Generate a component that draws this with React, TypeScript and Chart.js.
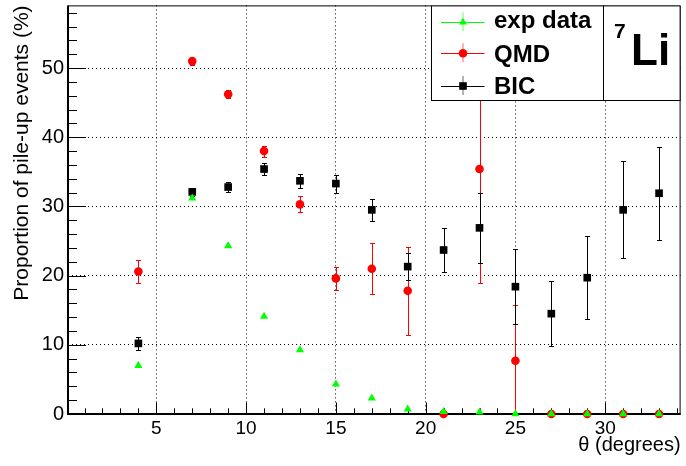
import React, { useEffect, useRef } from 'react';
import { Chart, registerables } from 'chart.js';

Chart.register(...registerables);

// ---- data ----
const angles = [4, 7, 9, 11, 13, 15, 17, 19, 21, 23, 25, 27, 29, 31, 33];
const expValues = [7.0, 31.2, 24.3, 14.1, 9.25, 4.3, 2.3, 0.7, 0.35, 0.25, 0, 0, 0, 0, 0];
const qmdValues = [20.6, 51.0, 46.2, 38.0, 30.3, 19.6, 21.0, 17.8, 0, 35.4, 7.7, 0, 0, 0, 0];
const qmdErrors = [1.6, 0.5, 0.6, 0.8, 1.15, 1.7, 3.65, 6.4, 0, 16.5, 8.0, 0, 0, 0, 0];
const bicValues = [10.2, 32.1, 32.8, 35.4, 33.7, 33.3, 29.5, 21.3, 23.7, 26.9, 18.4, 14.5, 19.7, 29.5, 31.9];
const bicErrors = [0.9, 0.6, 0.75, 0.9, 1.05, 1.3, 1.6, 1.95, 3.2, 5.05, 5.4, 4.7, 6.0, 7.0, 6.7];
const xTickValues = [5, 10, 15, 20, 25, 30];
const yTickValues = [0, 10, 20, 30, 40, 50];
const seriesLabels = ['exp data', 'QMD', 'BIC'];
const seriesColors = ['#00ff00', '#ff0000', '#000000'];
const seriesStyles = ['triangle', 'circle', 'rect'];
const nucleusMass = '7';
const nucleusSymbol = 'Li';
const xTitle = 'θ (degrees)';
const yTitle = 'Proportion of pile-up events (%)';

const FONT = '"Liberation Sans", Arial, Helvetica, sans-serif';

const toPoints = (vals: number[]) => angles.map((a, i) => ({ x: a, y: vals[i] }));

const framePlugin = {
  id: 'rootFrame',
  beforeDatasetsDraw(chart: any) {
    const { ctx, chartArea } = chart;
    const xs = chart.scales.x;
    const ys = chart.scales.y;
    const { left, right, top, bottom } = chartArea;
    ctx.save();
    ctx.strokeStyle = '#000';
    ctx.lineWidth = 1;
    ctx.beginPath();
    ctx.moveTo(left, top + 0.5);
    ctx.lineTo(right - 0.5, top + 0.5);
    ctx.lineTo(right - 0.5, bottom);
    ctx.stroke();
    ctx.beginPath();
    for (let v = Math.ceil(xs.min); v <= Math.floor(xs.max); v += 1) {
      if (v === 0) continue;
      const px = Math.round(xs.getPixelForValue(v)) + 0.5;
      const len = v % 5 === 0 ? 11.5 : 5.7;
      ctx.moveTo(px, bottom);
      ctx.lineTo(px, bottom - len);
    }
    for (let v = 2; v <= ys.max; v += 2) {
      const py = Math.round(ys.getPixelForValue(v)) + 0.5;
      const len = v % 10 === 0 ? 18 : 9;
      ctx.moveTo(left, py);
      ctx.lineTo(left + len, py);
    }
    ctx.stroke();
    ctx.lineWidth = 2;
    ctx.beginPath();
    ctx.moveTo(left, top);
    ctx.lineTo(left, bottom);
    ctx.lineTo(right, bottom);
    ctx.stroke();
    ctx.restore();
  },
};

const errorBarPlugin = {
  id: 'errorBars',
  beforeDatasetsDraw(chart: any) {
    const { ctx, chartArea } = chart;
    const xs = chart.scales.x;
    const ys = chart.scales.y;
    ctx.save();
    ctx.beginPath();
    ctx.rect(chartArea.left, chartArea.top, chartArea.right - chartArea.left, chartArea.bottom - chartArea.top);
    ctx.clip();
    const cap = 2.5;
    chart.data.datasets.forEach((ds: any) => {
      const errs: number[] | undefined = ds.errors;
      if (!errs) return;
      ctx.strokeStyle = ds.borderColor;
      ctx.lineWidth = 1;
      ds.data.forEach((p: any, i: number) => {
        const e = errs[i];
        if (!e) return;
        const px = Math.round(xs.getPixelForValue(p.x)) + 0.5;
        const y1 = Math.round(ys.getPixelForValue(p.y + e)) + 0.5;
        const y2 = Math.round(ys.getPixelForValue(p.y - e)) + 0.5;
        ctx.beginPath();
        ctx.moveTo(px, y1);
        ctx.lineTo(px, y2);
        ctx.moveTo(px - cap, y1);
        ctx.lineTo(px + cap, y1);
        ctx.moveTo(px - cap, y2);
        ctx.lineTo(px + cap, y2);
        ctx.stroke();
      });
    });
    ctx.restore();
  },
};

function drawMarker(ctx: CanvasRenderingContext2D, style: string, x: number, y: number, color: string) {
  ctx.fillStyle = color;
  ctx.beginPath();
  if (style === 'triangle') {
    const r = 4.5;
    ctx.moveTo(x, y - r);
    ctx.lineTo(x + r * 0.866, y + r * 0.5);
    ctx.lineTo(x - r * 0.866, y + r * 0.5);
    ctx.closePath();
  } else if (style === 'circle') {
    ctx.arc(x, y, 4.3, 0, Math.PI * 2);
  } else {
    ctx.rect(x - 3.8, y - 3.8, 7.6, 7.6);
  }
  ctx.fill();
}

const legendPlugin = {
  id: 'rootLegend',
  afterDraw(chart: any) {
    const { ctx, chartArea } = chart;
    const top = chartArea.top;
    const bx0 = 431.5, bx1 = 603.5, bx2 = chartArea.right - 0.5, by1 = 100.5;
    ctx.save();
    ctx.fillStyle = '#fff';
    ctx.fillRect(bx0, top, bx2 - bx0, by1 - top);
    ctx.strokeStyle = '#000';
    ctx.lineWidth = 1;
    ctx.strokeRect(bx0, top + 0.5, bx1 - bx0, by1 - top - 0.5);
    ctx.strokeRect(bx1, top + 0.5, bx2 - bx1, by1 - top - 0.5);

    const rowY = [22.3, 53.3, 86];
    const baseY = [27.5, 61.5, 94];
    const mx = 462.5;
    seriesLabels.forEach((label, i) => {
      const cy = rowY[i];
      const color = seriesColors[i];
      ctx.strokeStyle = color;
      ctx.lineWidth = 1;
      ctx.beginPath();
      ctx.moveTo(441, Math.round(cy) + 0.5);
      ctx.lineTo(484.5, Math.round(cy) + 0.5);
      ctx.stroke();
      ctx.globalAlpha = 0.6;
      ctx.beginPath();
      ctx.moveTo(mx + 0.5, cy - 10);
      ctx.lineTo(mx + 0.5, cy + 9);
      ctx.stroke();
      ctx.globalAlpha = 1;
      drawMarker(ctx, seriesStyles[i], mx + 0.5, cy, color);
      ctx.fillStyle = '#000';
      ctx.font = `bold 24px ${FONT}`;
      ctx.textAlign = 'left';
      ctx.textBaseline = 'alphabetic';
      ctx.fillText(label, 494, baseY[i]);
    });

    ctx.fillStyle = '#000';
    ctx.font = `bold 21px ${FONT}`;
    ctx.fillText(nucleusMass, 614, 38);
    ctx.font = `bold 44px ${FONT}`;
    ctx.fillText(nucleusSymbol, 631, 65);
    ctx.restore();
  },
};

export default function App() {
  const canvasRef = useRef<HTMLCanvasElement | null>(null);

  useEffect(() => {
    if (!canvasRef.current) return;
    const datasetDefs = [
      { values: expValues, errors: undefined },
      { values: qmdValues, errors: qmdErrors },
      { values: bicValues, errors: bicErrors },
    ];
    const radii = [4.7, 4.3, 5.4];
    const chart = new Chart(canvasRef.current, {
      type: 'scatter',
      data: {
        datasets: datasetDefs.map((d, i) => ({
          label: seriesLabels[i],
          data: toPoints(d.values),
          errors: d.errors,
          pointStyle: seriesStyles[i],
          pointRadius: radii[i],
          pointBackgroundColor: seriesColors[i],
          pointBorderColor: seriesColors[i],
          pointBorderWidth: 0,
          borderColor: seriesColors[i],
          backgroundColor: seriesColors[i],
          showLine: false,
          clip: 8,
        })) as any,
      },
      options: {
        animation: false,
        responsive: false,
        devicePixelRatio: 1,
        events: [],
        layout: { padding: { left: 0, right: 4, top: 5, bottom: 0 } },
        plugins: { legend: { display: false }, tooltip: { enabled: false }, title: { display: false } },
        scales: {
          x: {
            type: 'linear',
            min: 0.08,
            max: 34.2,
            afterBuildTicks: (s: any) => {
              s.ticks = xTickValues.map((v) => ({ value: v }));
            },
            afterFit: (s: any) => {
              s.height = 52;
              s.paddingLeft = 0;
              s.paddingRight = 0;
            },
            grid: { display: true, drawTicks: false, color: '#000', lineWidth: 1 },
            border: { display: false, dash: [1, 3] },
            ticks: {
              color: '#000',
              font: { family: FONT, size: 19 },
              padding: 3,
              maxRotation: 0,
              autoSkip: false,
              callback: (v: any) => String(v),
            },
            title: {
              display: true,
              text: xTitle,
              align: 'end',
              color: '#000',
              font: { family: FONT, size: 20, lineHeight: 1.2 },
              padding: { top: 0, bottom: 9 },
            },
          },
          y: {
            type: 'linear',
            min: 0,
            max: 59.05,
            afterBuildTicks: (s: any) => {
              s.ticks = yTickValues.map((v) => ({ value: v }));
            },
            afterFit: (s: any) => {
              s.width = 68;
              s.paddingTop = 0;
              s.paddingBottom = 0;
            },
            grid: { display: true, drawTicks: false, color: '#000', lineWidth: 1 },
            border: { display: false, dash: [1, 3] },
            ticks: {
              color: '#000',
              font: { family: FONT, size: 20 },
              padding: 4,
              autoSkip: false,
              callback: (v: any) => String(v),
            },
            title: {
              display: true,
              text: yTitle,
              align: 'end',
              color: '#000',
              font: { family: FONT, size: 21, lineHeight: 1.2 },
              padding: { top: 10, bottom: 0 },
            },
          },
        },
      } as any,
      plugins: [framePlugin, errorBarPlugin, legendPlugin],
    });
    return () => chart.destroy();
  }, []);

  return (
    <div style={{ position: 'absolute', left: 0, top: 0, width: 686, height: 466, background: '#fff' }}>
      <canvas ref={canvasRef} width={686} height={466} style={{ display: 'block' }} />
    </div>
  );
}
